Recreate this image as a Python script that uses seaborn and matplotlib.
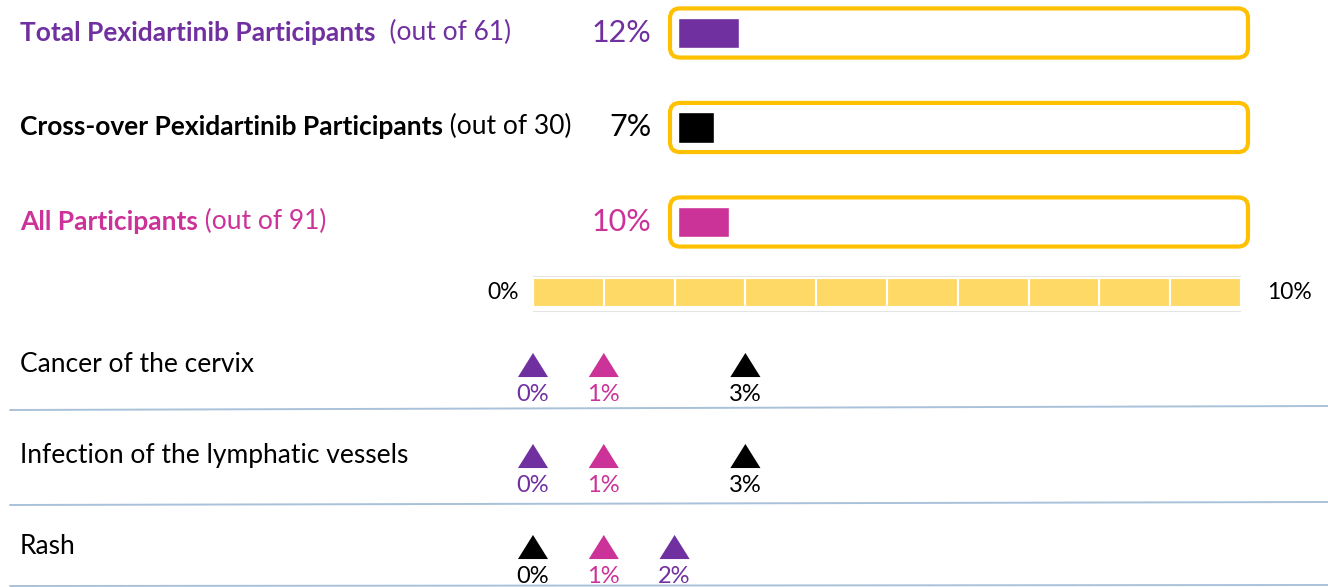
import numpy as np
import pandas as pd
import seaborn as sns
import matplotlib.pyplot as plt
import matplotlib.transforms as mtransforms
from matplotlib.patches import FancyBboxPatch, Rectangle
from matplotlib.lines import Line2D

# --- data ---
groups = ['Total Pexidartinib Participants',
          'Cross-over Pexidartinib Participants',
          'All Participants']
group_n = [61, 30, 91]
overall_pct = [12, 7, 10]
group_colors = ['#7030A0', '#000000', '#CC3399']

events = ['Cancer of the cervix', 'Infection of the lymphatic vessels', 'Rash']
pct_total = [0, 0, 2]
pct_cross = [3, 3, 0]
pct_all = [1, 1, 1]

scale_max = 10
scale_labels = ['0%', '10%']

# long table for the triangles
rows = []
for i, ev in enumerate(events):
    for g, vals in zip(groups, [pct_total, pct_cross, pct_all]):
        rows.append({'event': ev, 'row': i, 'group': g, 'pct': vals[i]})
df = pd.DataFrame(rows)
palette = dict(zip(groups, group_colors))

# --- figure ---
W, H = 1328, 587
sns.set_theme(style='white')
plt.rcParams['font.family'] = ['Lato', 'DejaVu Sans']
fig = plt.figure(figsize=(W / 100, H / 100), dpi=100)


def px_axes(x0, y0, x1, y1):
    # rect given in pixels measured from the top-left corner
    return fig.add_axes([x0 / W, 1 - y1 / H, (x1 - x0) / W, (y1 - y0) / H])


# top block: overall share with a rounded gold frame
ax_top = px_axes(670, 0, 1248, 270)
sns.barplot(x=overall_pct, y=groups, hue=groups, palette=group_colors,
            orient='h', width=0.32, saturation=1, legend=False, ax=ax_top)
px_per_pct = 5.1
ax_top.set_xlim(-8 / px_per_pct, (1248 - 678) / px_per_pct)
ax_top.set_ylim(2.508, -0.349)
ax_top.axis('off')

left_tr = mtransforms.blended_transform_factory(fig.transFigure, ax_top.transData)
for i, (g, n, v, c) in enumerate(zip(groups, group_n, overall_pct, group_colors)):
    box = FancyBboxPatch((0, i - 0.26), 1, 0.52,
                         boxstyle='round,pad=0,rounding_size=0.0173',
                         mutation_aspect=6.1, transform=ax_top.get_yaxis_transform(),
                         fc='white', ec='#FFC000', lw=3, zorder=0.5, clip_on=False)
    ax_top.add_patch(box)
    ax_top.annotate(f'{v}%', xy=(0, i), xytext=(-19, 0), textcoords='offset points',
                    ha='right', va='center', color=c, fontsize=22)
    t = ax_top.text(20 / W, i, g, transform=left_tr, ha='left', va='center',
                    color=c, fontsize=19, fontweight='bold')
    gap = '  ' if i == 0 else ' '
    ax_top.annotate(f'{gap}(out of {n})', xy=(1, 0), xycoords=t, ha='left',
                    va='bottom', color=c, fontsize=19)

# scale bar 0% .. 10%
ax_scale = px_axes(533, 270, 1241, 315)
ax_scale.barh(y=0, width=1, left=np.arange(scale_max), height=0.644,
              color='#FFD966', edgecolor='white', linewidth=1.5)
ax_scale.add_patch(Rectangle((-0.03, -0.41), scale_max + 0.06, 0.78, fill=False,
                             ec='#E3E3E3', lw=0.8, zorder=0))
ax_scale.set_xlim(0, scale_max)
ax_scale.set_ylim(-0.5, 0.5)
ax_scale.axis('off')
ax_scale.annotate(scale_labels[0], xy=(0, 0), xytext=(-10, 0), textcoords='offset points',
                  ha='right', va='center', fontsize=16.5, color='black')
ax_scale.annotate(scale_labels[1], xy=(scale_max, 0), xytext=(19, 0),
                  textcoords='offset points', ha='left', va='center',
                  fontsize=16.5, color='black')

# triangles per side effect, on the same 0-10% scale
ax_low = px_axes(533, 320, 1241, 587)
tri = [(-1, -0.8), (1, -0.8), (0, 0.8)]
sns.scatterplot(data=df, x='pct', y='row', hue='group', palette=palette,
                marker=tri, s=470, linewidth=0, legend=False, clip_on=False,
                ax=ax_low)
ax_low.set_xlim(0, scale_max)
ax_low.set_ylim(2.4396, -0.4945)
ax_low.axis('off')
for _, r in df.iterrows():
    ax_low.annotate(f"{r['pct']}%", xy=(r['pct'], r['row']), xytext=(0, -21),
                    textcoords='offset points', ha='center', va='center',
                    color=palette[r['group']], fontsize=17)

ev_tr = mtransforms.blended_transform_factory(fig.transFigure, ax_low.transData)
for i, ev in enumerate(events):
    ax_low.text(20 / W, i, ev, transform=ev_tr, ha='left', va='center',
                fontsize=19, color='black')

# thin separators between side effects
for y0, y1 in [(410, 406), (505, 502), (586, 585)]:
    fig.add_artist(Line2D([10 / W, 1], [1 - y0 / H, 1 - y1 / H],
                          transform=fig.transFigure, color='#A9C1D9', lw=1.4))

fig.savefig('out.png', dpi=100)
